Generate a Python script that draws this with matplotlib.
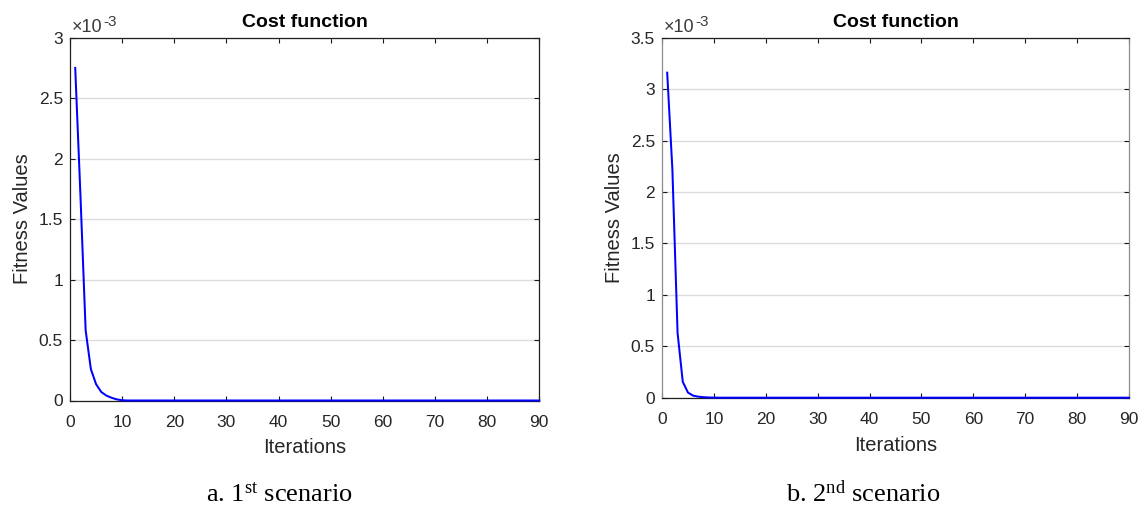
import matplotlib
matplotlib.use("Agg")
import matplotlib.pyplot as plt
from matplotlib.ticker import FuncFormatter, MultipleLocator

plt.rcParams['font.family'] = ['Liberation Sans', 'DejaVu Sans']
plt.rcParams['mathtext.default'] = 'regular'

# Cost-function history per scenario (fitness values, real units)
SCALE = 1e-3
iterations = list(range(1, 91))
fitness_s1_head = [2.75e-3, 1.70e-3, 0.58e-3, 0.26e-3, 0.135e-3, 0.070e-3,
                   0.040e-3, 0.022e-3, 0.009e-3, 0.002e-3]
fitness_s2_head = [3.16e-3, 2.22e-3, 0.63e-3, 0.155e-3, 0.050e-3, 0.020e-3,
                   0.010e-3, 0.005e-3, 0.002e-3, 0.001e-3]
fitness_s1 = fitness_s1_head + [0.0] * (90 - len(fitness_s1_head))
fitness_s2 = fitness_s2_head + [0.0] * (90 - len(fitness_s2_head))

x_ticks = list(range(0, 91, 10))
y_max = [3.0, 3.5]
captions = [r'a. 1$^{\mathregular{st}}$ scenario', r'b. 2$^{\mathregular{nd}}$ scenario']

W, H = 1144, 507
fig = plt.figure(figsize=(W / 100, H / 100), dpi=100)

# axes boxes in pixels: left, top, right, bottom
boxes = [(70, 37.7, 539.3, 400.5), (662, 37.7, 1129, 397.7)]
caption_x = [279.5, 863]
text_col = '#262626'

for i, (series, box) in enumerate(zip([fitness_s1, fitness_s2], boxes)):
    l, t, r, b = box
    ax = fig.add_axes([l / W, 1 - b / H, (r - l) / W, (b - t) / H])
    ax.plot(iterations, [v / SCALE for v in series], color='#0000ff', lw=1.45,
            solid_joinstyle='round', zorder=3, clip_on=False)
    ax.set_xlim(0, 90)
    ax.set_ylim(0, y_max[i])
    ax.set_xticks(x_ticks)
    ax.yaxis.set_major_locator(MultipleLocator(0.5))
    ax.yaxis.set_major_formatter(FuncFormatter(lambda v, p: f'{v:g}'))
    ax.tick_params(direction='in', length=3.6, width=0.8, top=True, right=True,
                   labelsize=12.5, colors='#1a1a1a', labelcolor=text_col)
    ax.tick_params(axis='x', pad=10.5)
    ax.tick_params(axis='y', pad=5)
    ax.grid(axis='y', color='#dcdcdc', lw=1.0)
    ax.set_axisbelow(True)
    for s in ax.spines.values():
        s.set_linewidth(0.9)
        s.set_color('#1f1f1f')
    if i == 1:
        ax.spines['left'].set_color('#8a8a8a')
        ax.spines['right'].set_color('#8a8a8a')
    ax.set_title('Cost function', fontsize=14, fontweight='bold', pad=8)
    ax.set_xlabel('Iterations', fontsize=14.5, color=text_col, labelpad=6)
    ax.set_ylabel('Fitness Values', fontsize=14.5, color=text_col, labelpad=5)

    # exponent marker above the y axis
    base = ax.annotate('\u00d710', xy=(0, 1), xycoords='axes fraction',
                       xytext=(1, 1), textcoords='offset points',
                       fontsize=13, color='#3a3a3a', ha='left', va='bottom')
    ax.annotate('-3', xy=(1, 0), xycoords=base, xytext=(1, 5.5),
                textcoords='offset points', fontsize=11, color='#3a3a3a',
                ha='left', va='bottom')

    fig.text(caption_x[i] / W, 1 - 502 / H, captions[i], ha='center',
             va='baseline', fontsize=19, family='Liberation Serif', color='black')

fig.savefig('out.png', dpi=100)
